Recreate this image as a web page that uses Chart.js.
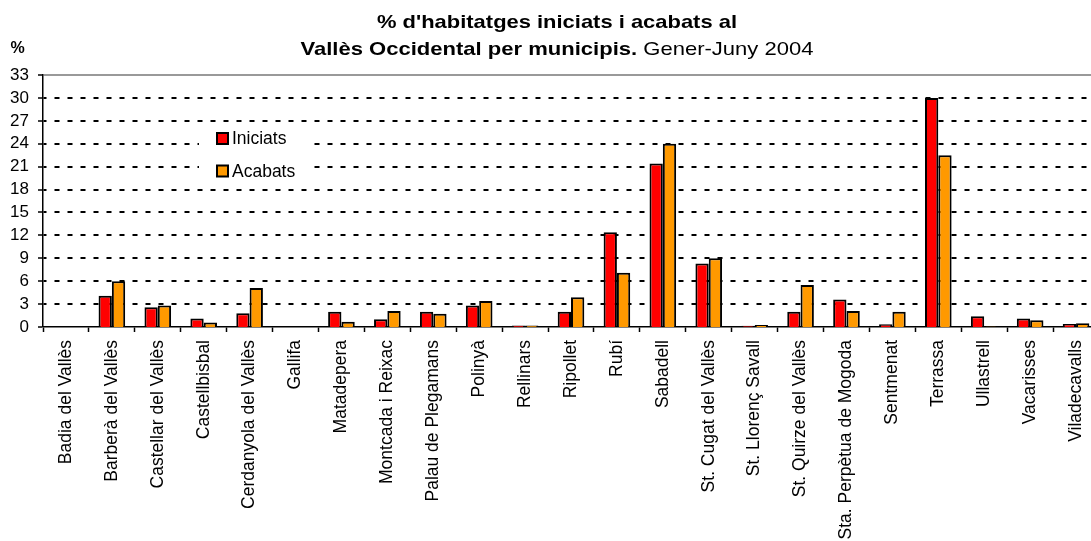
<!DOCTYPE html>
<html>
<head>
<meta charset="utf-8">
<script src="https://cdn.jsdelivr.net/npm/chart.js@4/dist/chart.umd.min.js"></script>
<style>
html,body{margin:0;padding:0;background:#fff;overflow:hidden;width:1091px;height:541px}
#wrap{width:1099px;height:541px;position:relative}
</style>
</head>
<body>
<div id="wrap"><canvas id="c" width="1099" height="541"></canvas></div>
<script>
// ---- data ----
const municipis = [
  "Badia del Vallès", "Barberà del Vallès", "Castellar del Vallès", "Castellbisbal",
  "Cerdanyola del Vallès", "Gallifa", "Matadepera", "Montcada i Reixac",
  "Palau de Plegamans", "Polinyà", "Rellinars", "Ripollet", "Rubí", "Sabadell",
  "St. Cugat del Vallès", "St. Llorenç Savall", "St. Quirze del Vallès",
  "Sta. Perpètua de Mogoda", "Sentmenat", "Terrassa", "Ullastrell", "Vacarisses",
  "Viladecavalls"
];
const iniciats = [0, 4.1, 2.6, 1.1, 1.8, 0, 2.0, 1.0, 2.0, 2.8, 0.2, 2.0, 12.4, 21.4, 8.3, 0.15, 2.0, 3.6, 0.35, 30.0, 1.4, 1.1, 0.4];
const acabats  = [0, 6.0, 2.8, 0.6, 5.1, 0, 0.7, 2.1, 1.75, 3.4, 0.2, 3.9, 7.1, 24.0, 9.0, 0.25, 5.5, 2.1, 2.0, 22.5, 0.05, 0.9, 0.5];
const yTicks = [0, 3, 6, 9, 12, 15, 18, 21, 24, 27, 30, 33];
const seriesNames = ["Iniciats", "Acabats"];
const titleLine1 = "% d'habitatges iniciats i acabats al";
const titleLine2Bold = "Vallès Occidental per municipis.";
const titleLine2Normal = " Gener-Juny 2004";
const yUnit = "%";

// ---- styles ----
const FONT = '"Liberation Sans", Arial, sans-serif';
const RED = '#FF0000';
const ORANGE = '#FF9900';

const decor = {
  id: 'decor',
  afterDraw(chart) {
    const ctx = chart.ctx;
    ctx.save();
    ctx.fillStyle = '#000';
    ctx.textBaseline = 'alphabetic';
    // title
    const cx = 557;
    ctx.font = 'bold 19px ' + FONT;
    const w1 = ctx.measureText(titleLine1).width;
    ctx.save();
    ctx.translate(cx, 27.5);
    ctx.scale(360 / w1, 1);
    ctx.textAlign = 'center';
    ctx.fillText(titleLine1, 0, 0);
    ctx.restore();

    ctx.font = 'bold 19px ' + FONT;
    const wb = ctx.measureText(titleLine2Bold).width;
    ctx.font = '19px ' + FONT;
    const wn = ctx.measureText(titleLine2Normal).width;
    const sc = 513 / (wb + wn);
    ctx.save();
    ctx.translate(cx - 513 / 2, 55);
    ctx.scale(sc, 1);
    ctx.textAlign = 'left';
    ctx.font = 'bold 19px ' + FONT;
    ctx.fillText(titleLine2Bold, 0, 0);
    ctx.font = '19px ' + FONT;
    ctx.fillText(titleLine2Normal, wb, 0);
    ctx.restore();

    // y unit
    ctx.font = 'bold 16px ' + FONT;
    ctx.textAlign = 'center';
    ctx.fillText(yUnit, 17.5, 52.5);

    // legend
    ctx.fillStyle = '#fff';
    ctx.fillRect(199, 125, 114, 60);
    const items = [[RED, 138.5], [ORANGE, 171]];
    items.forEach((it, i) => {
      ctx.fillStyle = it[0];
      ctx.fillRect(217, it[1] - 5.5, 11, 11);
      ctx.lineWidth = 2;
      ctx.strokeStyle = '#000';
      ctx.strokeRect(217, it[1] - 5.5, 11, 11);
      ctx.fillStyle = '#000';
      ctx.font = '17.5px ' + FONT;
      ctx.textAlign = 'left';
      ctx.textBaseline = 'middle';
      ctx.fillText(seriesNames[i], 232, it[1] + 1);
    });
    ctx.restore();
  }
};

new Chart(document.getElementById('c'), {
  type: 'bar',
  data: {
    labels: municipis,
    datasets: [
      { label: seriesNames[0], data: iniciats, backgroundColor: RED, borderColor: '#000', borderWidth: 2 },
      { label: seriesNames[1], data: acabats, backgroundColor: ORANGE, borderColor: '#000', borderWidth: 2 }
    ]
  },
  options: {
    responsive: false,
    devicePixelRatio: 1,
    animation: false,
    layout: { padding: { top: 75, right: 0, left: 0, bottom: 0 } },
    datasets: { bar: { categoryPercentage: 0.58, barPercentage: 1.0 } },
    plugins: { legend: { display: false }, title: { display: false }, tooltip: { enabled: false } },
    scales: {
      x: {
        offset: true,
        grid: { display: true, drawOnChartArea: false, drawTicks: true, tickLength: 5, tickColor: '#000', tickWidth: 1.5, offset: true },
        border: { display: true, color: '#000', width: 1.5 },
        ticks: { autoSkip: false, minRotation: 90, maxRotation: 90, padding: 8, color: '#000', font: { family: FONT, size: 17.5 } },
        afterFit(s) { s.height = 214; s.paddingLeft = 0; s.paddingRight = 0; }
      },
      y: {
        min: 0, max: 33,
        afterBuildTicks(s) { s.ticks = yTicks.map(v => ({ value: v })); },
        grid: {
          color: c => (c.tick && c.tick.value === 33) ? '#999' : '#000',
          lineWidth: c => (c.tick && c.tick.value === 0) ? 0 : 2,
          tickLength: 5, tickColor: '#000', tickWidth: 1.5, drawTicks: true
        },
        border: {
          display: true, color: '#000', width: 1.5,
          dash: c => (c.tick && c.tick.value === 33) ? [] : [5, 8],
          dashOffset: 2
        },
        ticks: { autoSkip: false, padding: 9, color: '#000', font: { family: FONT, size: 17 } },
        afterFit(s) { s.width = 43; }
      }
    }
  },
  plugins: [decor]
});
</script>
</body>
</html>
